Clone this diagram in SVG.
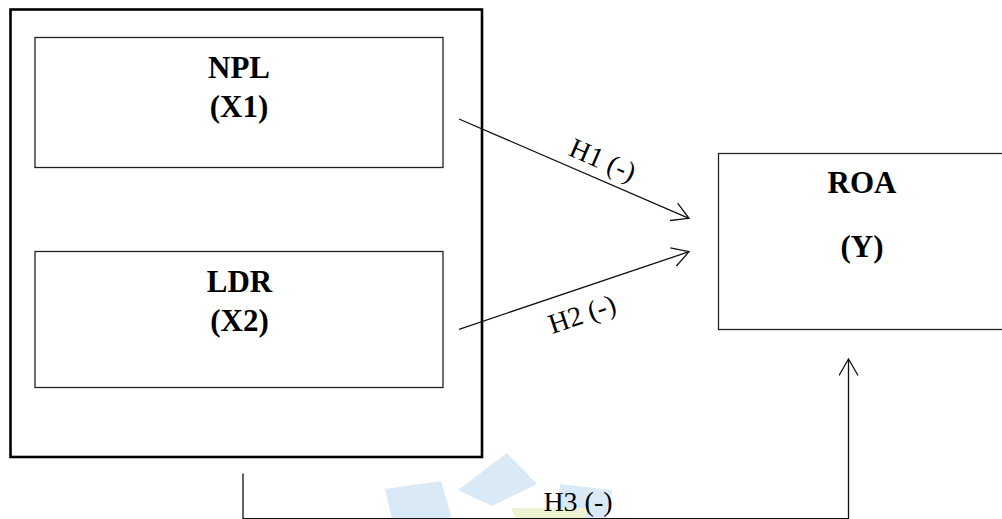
<svg xmlns="http://www.w3.org/2000/svg" width="1002" height="519" viewBox="0 0 1002 519">
  <style>
    .frame { fill: none; stroke: #000; stroke-width: 2.6; }
    .box { fill: none; stroke: #222; stroke-width: 1.3; }
    .title { font-family: "Liberation Serif", "Times New Roman", serif; font-weight: bold; font-size: 31px; fill: #000; text-anchor: middle; }
    .lbl { font-family: "Liberation Serif", "Times New Roman", serif; font-size: 28px; fill: #000; text-anchor: middle; }
    .link { fill: none; stroke: #111; stroke-width: 1.3; }
    .mark { fill: #dae9f6; }
    .mark2 { fill: #eef2d3; }
  </style>
  <defs>
    <marker id="open" markerUnits="userSpaceOnUse" markerWidth="24" markerHeight="24" refX="18" refY="10" orient="auto">
      <path d="M1.5,0.5 L18,10 L1.5,19.5" fill="none" stroke="#111" stroke-width="1.3"/>
    </marker>
  </defs>

  <rect width="1002" height="519" fill="#fff"/>

  <!-- faint emblem behind the bottom connector -->
  <g id="emblem">
    <polygon class="mark" points="385,489 441,481 452,519 392,519"/>
    <polygon class="mark" points="507,453 537,484 492,506 458,490"/>
    <polygon class="mark" points="560,484 612,490 605,519 556,519"/>
    <polygon class="mark2" points="511,508 589,508 584,519 516,519"/>
  </g>

  <!-- independent variables frame -->
  <g id="frame">
    <rect class="frame" x="10.5" y="9.5" width="471.5" height="447.5"/>
  </g>

  <g id="npl">
    <rect class="box" x="35" y="37.5" width="408" height="130"/>
    <text class="title" x="239" y="78">NPL</text>
    <text class="title" x="239" y="117">(X1)</text>
  </g>

  <g id="ldr">
    <rect class="box" x="35" y="251.5" width="408" height="136"/>
    <text class="title" x="239.5" y="292">LDR</text>
    <text class="title" x="239.5" y="331">(X2)</text>
  </g>

  <g id="roa">
    <rect class="box" x="718.5" y="153.5" width="300" height="176" stroke-width="1.5"/>
    <text class="title" x="862" y="192.5">ROA</text>
    <text class="title" x="862" y="256.5">(Y)</text>
  </g>

  <!-- hypothesis paths -->
  <g id="connectors">
    <line class="link" x1="459" y1="119" x2="689" y2="218.3" marker-end="url(#open)"/>
    <line class="link" x1="459" y1="329.3" x2="689" y2="251.7" marker-end="url(#open)"/>
    <path class="link" d="M243,473.5 V518.6 H848.5 V359" marker-end="url(#open)"/>
    <text class="lbl" transform="translate(599,168.5) rotate(23.4)">H1 (-)</text>
    <text class="lbl" transform="translate(585,323) rotate(-18.6)">H2 (-)</text>
    <text class="lbl" x="578" y="510.5">H3 (-)</text>
  </g>
</svg>
